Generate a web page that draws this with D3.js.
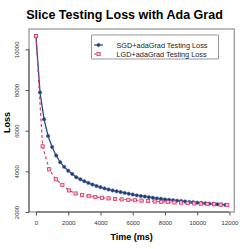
<!DOCTYPE html>
<html><head><meta charset="utf-8">
<script src="https://cdn.jsdelivr.net/npm/d3@7"></script>
<style>body{margin:0;background:#fff}svg{display:block}</style>
</head><body>
<script>
const sgdTime = [0,250,500,750,1000,1250,1500,1750,2000,2250,2500,2750,3000,3250,3500,3750,4000,4250,4500,4750,5000,5250,5500,5750,6000,6250,6500,6750,7000,7250,7500,7750,8000,8250,8500,8750,9000,9250,9500,9750,10000,10250,10500,10750,11000,11250,11500,11750];
const sgdLoss = [10650,7880,6560,5740,5200,4780,4450,4220,4030,3870,3710,3610,3510,3430,3350,3280,3220,3160,3110,3060,3020,2980,2940,2900,2860,2820,2790,2760,2730,2700,2670,2650,2620,2600,2580,2560,2540,2520,2500,2480,2460,2450,2430,2410,2400,2380,2370,2350];
const lgdTime = [0,409,818,1227,1636,2045,2454,2863,3272,3681,4090,4499,4908,5317,5726,6135,6544,6953,7362,7771,8180,8589,8998,9407,9816,10225,10634,11043,11452,11861];
const lgdLoss = [10650,5230,4100,3610,3330,3060,2910,2840,2780,2740,2700,2670,2640,2620,2600,2580,2560,2540,2520,2500,2490,2470,2460,2440,2420,2410,2390,2380,2360,2340];
const xTicks = [0,2000,4000,6000,8000,10000,12000];
const yTicks = [2000,4000,6000,8000,10000];
const seriesNames = ["SGD+adaGrad Testing Loss","LGD+adaGrad Testing Loss"];
const title = "Slice Testing Loss with Ada Grad";

const W=249,H=249, L=29, R=234.3, T=29, B=212;
const blue="#22396f", red="#d43768";
const svg=d3.select("body").append("svg").attr("width",W).attr("height",H);
const x=d3.scaleLinear().domain([-434,12300]).range([L,R]);
const y=d3.scaleLinear().domain([2000,11000]).range([B,T]);
const font="Liberation Sans, Arial, Helvetica, sans-serif";

svg.append("text").attr("x",124.5).attr("y",19).attr("text-anchor","middle")
  .attr("font-family",font).attr("font-weight","bold").attr("font-size",12.5).text(title);

// frame
svg.append("rect").attr("x",L).attr("y",T).attr("width",R-L).attr("height",B-T)
  .attr("fill","none").attr("stroke","#9a9a9a").attr("stroke-width",1.3);

// x axis
const gx=svg.append("g").attr("transform",`translate(0,${B})`)
  .call(d3.axisBottom(x).tickValues(xTicks).tickSize(3.5).tickPadding(5).tickFormat(d3.format("d")));
gx.select(".domain").attr("stroke","#555").attr("d",`M${x(0)},0H${x(12000)}`);
gx.selectAll("line").attr("stroke","#555");
gx.selectAll("text").attr("font-family",font).attr("font-size",6).attr("fill","#333");

// y axis
const gy=svg.append("g").attr("transform",`translate(${L},0)`)
  .call(d3.axisLeft(y).tickValues(yTicks).tickSize(3.5).tickPadding(0).tickFormat(d3.format("d")));
gy.select(".domain").attr("stroke","#555").attr("d",`M0,${y(2000)}V${y(10000)}`);
gy.selectAll("line").attr("stroke","#555");
gy.selectAll("text").attr("font-family",font).attr("font-size",6).attr("fill","#333")
  .attr("text-anchor","middle").attr("x",0).attr("dy",0)
  .attr("transform","translate(-10,0) rotate(-90)");

svg.append("text").attr("transform",`translate(10,${(T+B)/2+2}) rotate(-90)`).attr("text-anchor","middle")
  .attr("font-family",font).attr("font-weight","bold").attr("font-size",9).text("Loss");
svg.append("text").attr("x",(L+R)/2).attr("y",240).attr("text-anchor","middle")
  .attr("font-family",font).attr("font-weight","bold").attr("font-size",9).text("Time (ms)");

const sgd=sgdTime.map((t,i)=>[t,sgdLoss[i]]);
const lgd=lgdTime.map((t,i)=>[t,lgdLoss[i]]);
const line=d3.line().x(d=>x(d[0])).y(d=>y(d[1]));

svg.append("path").attr("d",line(sgd)).attr("fill","none").attr("stroke","#2d4a88").attr("stroke-width",1.3);
svg.append("path").attr("d",line(lgd)).attr("fill","none").attr("stroke",red).attr("stroke-width",1.1).attr("stroke-dasharray","3,2.5");

svg.append("g").selectAll("circle").data(sgd).join("circle")
  .attr("cx",d=>x(d[0])).attr("cy",d=>y(d[1])).attr("r",1.7)
  .attr("fill",blue).attr("stroke","#4a68a8").attr("stroke-width",0.6);
svg.append("g").selectAll("rect").data(lgd).join("rect")
  .attr("x",d=>x(d[0])-1.6).attr("y",d=>y(d[1])-1.6).attr("width",3.2).attr("height",3.2)
  .attr("fill","#f3c6d4").attr("stroke",red).attr("stroke-width",0.8);

// legend
const lg=svg.append("g");
lg.append("rect").attr("x",91.7).attr("y",35).attr("width",126.6).attr("height",24)
  .attr("fill","#fff").attr("stroke","#555").attr("stroke-width",0.6);
const ly=[45,54];
lg.append("line").attr("x1",94).attr("x2",103).attr("y1",ly[0]).attr("y2",ly[0]).attr("stroke","#2d4a88").attr("stroke-width",1.2);
lg.append("circle").attr("cx",98.5).attr("cy",ly[0]).attr("r",1.7).attr("fill",blue).attr("stroke","#4a68a8").attr("stroke-width",0.6);
lg.append("line").attr("x1",94).attr("x2",103).attr("y1",ly[1]).attr("y2",ly[1]).attr("stroke",red).attr("stroke-width",1.1).attr("stroke-dasharray","2,2.5");
lg.append("rect").attr("x",96.9).attr("y",ly[1]-1.6).attr("width",3.2).attr("height",3.2).attr("fill","#f3c6d4").attr("stroke",red).attr("stroke-width",0.8);
lg.selectAll("text.l").data(seriesNames).join("text").attr("class","l")
  .attr("x",116.5).attr("y",(d,i)=>ly[i]+2.5).attr("font-family",font).attr("font-size",7.3).attr("fill","#222").text(d=>d);
</script>
</body></html>
